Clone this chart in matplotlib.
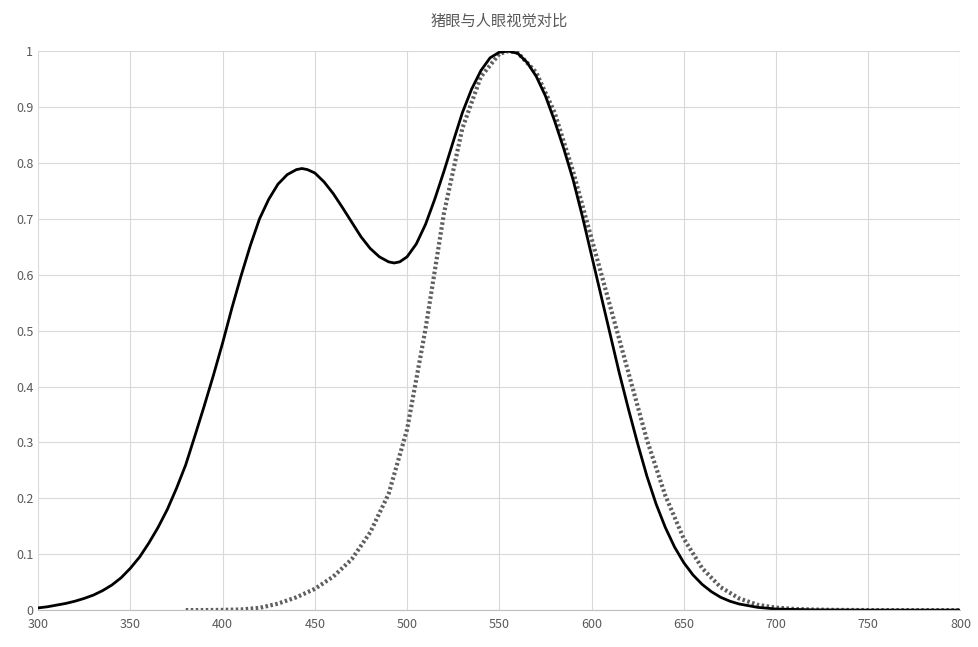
import matplotlib
matplotlib.use("Agg")
import matplotlib.pyplot as plt

plt.rcParams['font.family'] = ['Noto Sans CJK SC', 'DejaVu Sans']

pig_wl = [300,305,310,315,320,325,330,335,340,345,350,355,360,365,370,375,380,385,390,395,400,405,410,415,420,425,430,435,440,443,446,450,455,460,465,470,475,480,485,490,493,496,500,505,510,515,520,525,530,535,540,545,550,555,560,565,570,575,580,585,590,595,600,605,610,615,620,625,630,635,640,645,650,655,660,665,670,675,680,690,700,720,750,800]
pig_val = [0.004,0.006,0.009,0.012,0.016,0.021,0.027,0.035,0.045,0.058,0.075,0.095,0.12,0.148,0.18,0.218,0.26,0.312,0.365,0.42,0.478,0.54,0.598,0.652,0.70,0.735,0.762,0.779,0.788,0.79,0.788,0.782,0.766,0.745,0.72,0.694,0.668,0.647,0.632,0.623,0.621,0.623,0.632,0.655,0.69,0.735,0.785,0.838,0.89,0.932,0.965,0.988,0.998,1.0,0.996,0.98,0.955,0.92,0.875,0.825,0.77,0.705,0.635,0.565,0.495,0.425,0.36,0.298,0.24,0.19,0.148,0.113,0.085,0.063,0.046,0.033,0.023,0.016,0.011,0.005,0.002,0.0005,0.0,0.0]

human_wl = [380,390,400,410,420,430,440,450,460,470,480,490,500,510,520,530,540,550,555,560,570,580,590,600,610,620,630,640,650,660,670,680,690,700,710,720,730,740,750,760,770,780,790,800]
human_val = [0.00004,0.00012,0.0004,0.0012,0.004,0.0116,0.023,0.038,0.06,0.091,0.139,0.208,0.323,0.503,0.71,0.862,0.954,0.995,1.0,0.997,0.962,0.89,0.785,0.665,0.545,0.425,0.305,0.205,0.128,0.075,0.041,0.021,0.0095,0.0045,0.0021,0.00105,0.00052,0.00025,0.00012,0.00006,0.00003,0.000015,0.000008,0.000004]

fig = plt.figure(figsize=(9.79, 6.47), dpi=100)
ax = fig.add_axes([0.039, 0.057, 0.942, 0.864])
ax.plot(human_wl, human_val, color='#5f5f5f', linestyle=(0, (0.6, 0.6)), linewidth=3)
ax.plot(pig_wl, pig_val, color='black', linewidth=2, solid_joinstyle='round')
ax.set_xlim(300, 800)
ax.set_ylim(0, 1)
ax.set_xticks(range(300, 801, 50))
ax.set_yticks([i/10 for i in range(11)])
ax.set_yticklabels(['0'] + [f'{i/10:g}' for i in range(1, 10)] + ['1'])
ax.grid(True, color='#d9d9d9', linewidth=0.8)
ax.set_axisbelow(True)
for s in ['top', 'right', 'left']:
    ax.spines[s].set_visible(False)
ax.spines['bottom'].set_color('#bfbfbf')
ax.tick_params(length=0, labelsize=9, colors='#595959')
ax.tick_params(axis='x', pad=6)
ax.set_title('猪眼与人眼视觉对比', fontsize=11, color='#595959', pad=18)
fig.savefig('out.png', dpi=100)
